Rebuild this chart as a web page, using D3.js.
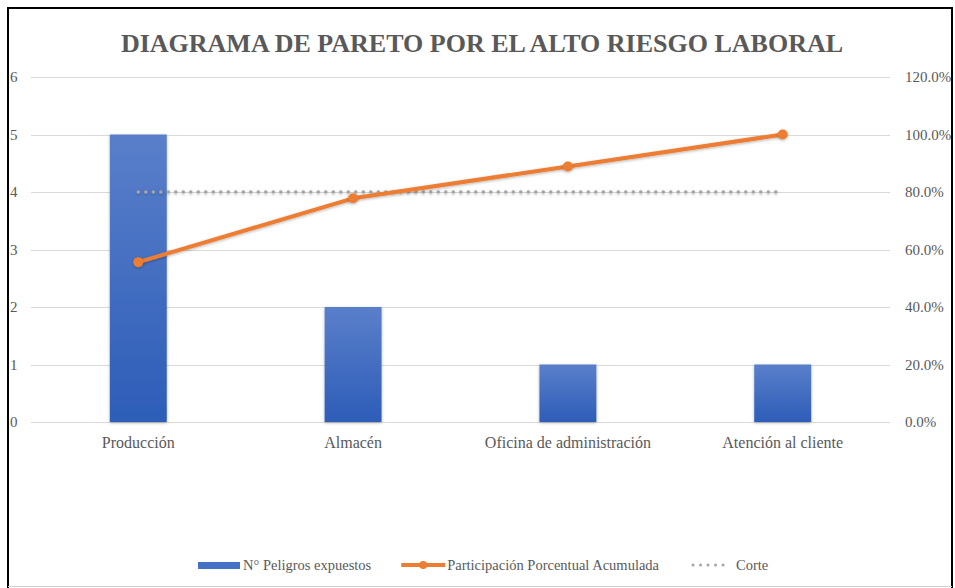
<!DOCTYPE html>
<html>
<head>
<meta charset="utf-8">
<script src="https://cdn.jsdelivr.net/npm/d3@7"></script>
<style>
  body { margin: 0; background: #fff; }
  svg text { font-family: "Liberation Serif", serif; fill: #595959; }
</style>
</head>
<body>
<svg width="955" height="588"></svg>
<script>
var categories = ["Producción", "Almacén", "Oficina de administración", "Atención al cliente"];
var peligros = [5, 2, 1, 1];
var acumulada = [0.556, 0.778, 0.889, 1.0];
var corte = [0.8, 0.8, 0.8, 0.8];
var leftTicks = [0, 1, 2, 3, 4, 5, 6];
var rightTicks = [0, 0.2, 0.4, 0.6, 0.8, 1.0, 1.2];
var legendLabels = ["N° Peligros expuestos", "Participación Porcentual Acumulada", "Corte"];
var title = "DIAGRAMA DE PARETO POR EL ALTO RIESGO LABORAL";

var svg = d3.select("svg"),
    width = 955,
    height = 588,
    plot = { left: 31, right: 890, top: 77, bottom: 422 },
    serif = "Liberation Serif";

var x = d3.scaleBand().domain(categories).range([plot.left, plot.right]).paddingInner(0.735).paddingOuter(0.367);
var yLeft = d3.scaleLinear().domain([0, 6]).range([plot.bottom, plot.top]);
var yRight = d3.scaleLinear().domain([0, 1.2]).range([plot.bottom, plot.top]);
var cx = function(d) { return x(d) + x.bandwidth() / 2; };

var defs = svg.append("defs");
var grad = defs.append("linearGradient").attr("id", "barGrad").attr("x1", 0).attr("y1", 0).attr("x2", 0).attr("y2", 1);
grad.append("stop").attr("offset", "0%").attr("stop-color", "#5A7FCA");
grad.append("stop").attr("offset", "100%").attr("stop-color", "#2D5DB8");
// user space region so flat paths (the horizontal corte line) still get drawn
var shadow = defs.append("filter").attr("id", "shadow").attr("filterUnits", "userSpaceOnUse")
    .attr("x", 0).attr("y", 0).attr("width", width).attr("height", height);
shadow.append("feDropShadow").attr("dx", 0).attr("dy", 1).attr("stdDeviation", 1.5).attr("flood-color", "#000").attr("flood-opacity", 0.3);

// frame
svg.append("rect").attr("x", 8).attr("y", 8).attr("width", 944).attr("height", 590)
    .attr("fill", "none").attr("stroke", "#000").attr("stroke-width", 2);
svg.append("line").attr("x1", 8).attr("x2", 952).attr("y1", 586.5).attr("y2", 586.5)
    .attr("stroke", "#d0d0d0").attr("stroke-width", 1);

// title
svg.append("text").attr("x", 482).attr("y", 52).attr("text-anchor", "middle")
    .style("font-size", "26px").style("font-weight", "bold").style("font-family", serif).text(title);

// gridlines
svg.append("g").selectAll("line").data(leftTicks).join("line")
    .attr("x1", plot.left).attr("x2", plot.right)
    .attr("y1", d => Math.round(yLeft(d)) + 0.5).attr("y2", d => Math.round(yLeft(d)) + 0.5)
    .attr("stroke", "#d9d9d9").attr("stroke-width", 1);

// left axis
var gl = svg.append("g").attr("transform", "translate(10,0)")
    .call(d3.axisRight(yLeft).tickValues(leftTicks).tickSize(0).tickPadding(0).tickFormat(d3.format("d")));
gl.attr("font-family", null);
gl.select(".domain").remove();
gl.selectAll("text").style("font-size", "15px").style("fill", "#595959").style("font-family", serif);

// right axis
var gr = svg.append("g").attr("transform", "translate(905,0)")
    .call(d3.axisRight(yRight).tickValues(rightTicks).tickSize(0).tickPadding(0).tickFormat(d3.format(".1%")));
gr.attr("font-family", null);
gr.select(".domain").remove();
gr.selectAll("text").style("font-size", "15px").style("fill", "#595959").style("font-family", serif);

// category axis
var gx = svg.append("g").attr("transform", "translate(0," + plot.bottom + ")")
    .call(d3.axisBottom(x).tickSize(0).tickPadding(15));
gx.attr("font-family", null);
gx.select(".domain").remove();
gx.selectAll("text").style("font-size", "16px").style("fill", "#595959").style("font-family", serif);

// bars
svg.append("g").selectAll("rect").data(peligros).join("rect")
    .attr("x", (d, i) => x(categories[i]))
    .attr("y", d => yLeft(d))
    .attr("width", x.bandwidth())
    .attr("height", d => yLeft(0) - yLeft(d))
    .attr("fill", "url(#barGrad)")
    .attr("filter", "url(#shadow)");

// corte line
var lineRight = d3.line().x((d, i) => cx(categories[i])).y(d => yRight(d));
svg.append("path").datum(corte).attr("d", lineRight)
    .attr("fill", "none").attr("stroke", "#a5a5a5").attr("stroke-width", 3.5)
    .attr("stroke-linecap", "round").attr("stroke-dasharray", "0 7.5")
    .attr("filter", "url(#shadow)");

// acumulada line
svg.append("path").datum(acumulada).attr("d", lineRight)
    .attr("fill", "none").attr("stroke", "#ED7D31").attr("stroke-width", 4)
    .attr("stroke-linejoin", "round").attr("filter", "url(#shadow)");
svg.append("g").selectAll("circle").data(acumulada).join("circle")
    .attr("cx", (d, i) => cx(categories[i])).attr("cy", d => yRight(d)).attr("r", 5)
    .attr("fill", "#ED7D31").attr("filter", "url(#shadow)");

// legend
var legend = svg.append("g").attr("transform", "translate(0,565)");
var items = legend.selectAll("g").data(legendLabels).join("g");
items.append("text").attr("y", 5).style("font-size", "14.5px").style("font-family", serif).text(d => d);
var symW = [42, 44, 38], symGap = [3, 2, 7], gapAfter = [30, 32, 0], pos = 198;
var widths = [];
items.each(function(d, i) {
    widths.push(this.querySelector("text").getComputedTextLength());
});
items.each(function(d, i) {
    var g = d3.select(this);
    g.attr("transform", "translate(" + pos + ",0)");
    g.select("text").attr("x", symW[i] + symGap[i]);
    if (i === 0) {
        g.append("rect").attr("x", 0).attr("y", -3).attr("width", symW[i]).attr("height", 7).attr("fill", "#4472C4");
    } else if (i === 1) {
        g.append("line").attr("x1", 0).attr("x2", symW[i]).attr("y1", 0).attr("y2", 0)
            .attr("stroke", "#ED7D31").attr("stroke-width", 4);
        g.append("circle").attr("cx", symW[i] / 2).attr("cy", 0).attr("r", 4).attr("fill", "#ED7D31");
    } else {
        g.append("line").attr("x1", 2).attr("x2", symW[i]).attr("y1", 0).attr("y2", 0)
            .attr("stroke", "#a5a5a5").attr("stroke-width", 3).attr("stroke-linecap", "round")
            .attr("stroke-dasharray", "0 7.5");
    }
    pos += symW[i] + symGap[i] + widths[i] + gapAfter[i];
});
</script>
</body>
</html>
